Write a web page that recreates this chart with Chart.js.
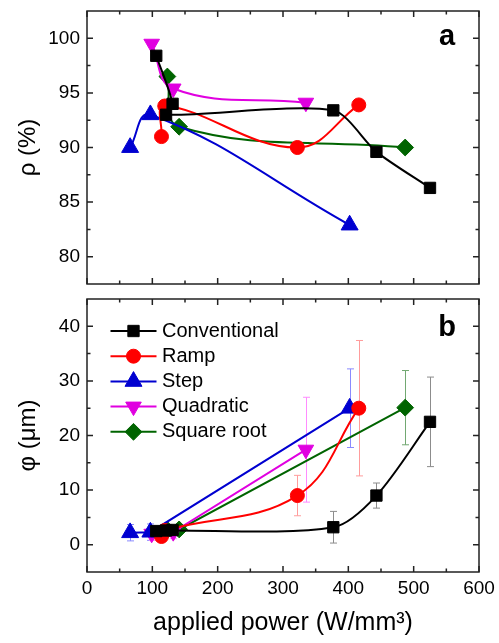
<!DOCTYPE html>
<html>
<head>
<meta charset="utf-8">
<script src="https://cdn.jsdelivr.net/npm/chart.js@4/dist/chart.umd.min.js"></script>
<style>
  body { margin: 0; background: #fff; }
  #wrap { position: relative; width: 499px; height: 643px; }
  canvas { position: absolute; left: 0; }
  #top { top: 0; }
  #bottom { top: 290px; }
</style>
</head>
<body>
<div id="wrap">
  <canvas id="top" width="499" height="290"></canvas>
  <canvas id="bottom" width="499" height="353"></canvas>
</div>
<script>
// applied power (W/mm3) for each heating profile
const conventionalPower = [106, 131, 121, 377, 443, 525];
const rampPower = [114, 119, 322, 416];
const stepPower = [66, 97, 402];
const quadraticPower = [99, 132, 335];
const sqrtPower = [123, 141, 487];

// relative density rho (%)
const conventionalRho = [98.4, 94.0, 93.0, 93.4, 89.6, 86.3];
const rampRho = [91.0, 93.8, 90.0, 93.9];
const stepRho = [90.0, 93.0, 82.9];
const quadraticRho = [99.5, 95.4, 94.1];
const sqrtRho = [96.5, 91.9, 90.0];

// grain size phi (um) with its spread
const conventionalPhi = [2.5, 2.7, 2.6, 3.2, 9.0, 22.5];
const conventionalPhiErr = [0.8, 0.8, 0.8, 2.9, 2.3, 8.2];
const rampPhi = [1.5, 2.6, 9.0, 25.0];
const rampPhiErr = [1.0, 1.0, 3.7, 12.4];
const stepPhi = [2.2, 2.3, 25.0];
const stepPhiErr = [1.5, 1.5, 7.2];
const quadraticPhi = [2.0, 2.3, 17.4];
const quadraticPhiErr = [1.2, 1.2, 9.6];
const sqrtPhi = [2.7, 2.8, 25.1];
const sqrtPhiErr = [0.8, 0.8, 6.8];

const seriesNames = ['Conventional', 'Ramp', 'Step', 'Quadratic', 'Square root'];

const powerTicks = [0, 100, 200, 300, 400, 500, 600];
const rhoTicks = [80, 85, 90, 95, 100];
const phiTicks = [0, 10, 20, 30, 40];

const FONT = "'Liberation Sans', Arial, sans-serif";

const styles = [
  { color: '#000000', err: '#8c8c8c', shape: 'rect', r: 8, rot: 0 },
  { color: '#ff0000', err: '#ff9c9c', shape: 'circle', r: 7, rot: 0 },
  { color: '#0000d0', err: '#8a8aff', shape: 'triangle', r: 9.8, rot: 0 },
  { color: '#e000e0', err: '#ff8cff', shape: 'triangle', r: 9, rot: 180 },
  { color: '#006400', err: '#72a872', shape: 'rectRot', r: 8.4, rot: 0 }
];

const powers = [conventionalPower, rampPower, stepPower, quadraticPower, sqrtPower];
const rhos = [conventionalRho, rampRho, stepRho, quadraticRho, sqrtRho];
const phis = [conventionalPhi, rampPhi, stepPhi, quadraticPhi, sqrtPhi];
const phiErrs = [conventionalPhiErr, rampPhiErr, stepPhiErr, quadraticPhiErr, sqrtPhiErr];

const rhoTension = [0.25, 0.4, 0.4, 0.4, 0.4];
const phiTension = [0.3, 0.4, 0, 0, 0];

function makeDatasets(values, tension, errs) {
  return seriesNames.map((name, i) => {
    const st = styles[i];
    return {
      label: name,
      data: powers[i].map((p, k) => ({ x: p, y: values[i][k] })),
      errors: errs ? errs[i] : null,
      errColor: st.err,
      borderColor: st.color,
      backgroundColor: st.color,
      borderWidth: 2,
      tension: tension[i],
      pointStyle: st.shape,
      pointRadius: st.r,
      pointRotation: st.rot,
      pointBorderWidth: 1,
      pointBorderColor: st.color,
      pointBackgroundColor: st.color,
      clip: false
    };
  });
}

// frame with inward major/minor ticks on all four sides
const framePlugin = {
  id: 'frame',
  afterDatasetsDraw(chart) {
    const { ctx, chartArea: a, scales } = chart;
    const xs = scales.x, ys = scales.y;
    ctx.save();
    ctx.strokeStyle = '#222';
    ctx.lineWidth = 1.5;
    ctx.strokeRect(a.left, a.top, a.right - a.left, a.bottom - a.top);
    const marks = (ticks, min, max) => {
      const out = [];
      const step = ticks[1] - ticks[0];
      ticks.forEach(t => out.push([t, 6]));
      for (let v = ticks[0] - step / 2; v <= max; v += step) {
        if (v > min && v < max) out.push([v, 3.5]);
      }
      return out.filter(m => m[0] >= min && m[0] <= max);
    };
    ctx.beginPath();
    marks(chart.options.xTicks, xs.min, xs.max).forEach(([v, len]) => {
      const px = xs.getPixelForValue(v);
      ctx.moveTo(px, a.bottom); ctx.lineTo(px, a.bottom - len);
      ctx.moveTo(px, a.top); ctx.lineTo(px, a.top + len);
    });
    marks(chart.options.yTicks, ys.min, ys.max).forEach(([v, len]) => {
      const py = ys.getPixelForValue(v);
      ctx.moveTo(a.left, py); ctx.lineTo(a.left + len, py);
      ctx.moveTo(a.right, py); ctx.lineTo(a.right - len, py);
    });
    ctx.stroke();
    // panel letter
    const lab = chart.options.panelLabel;
    ctx.fillStyle = '#000';
    ctx.font = 'bold 29px ' + FONT;
    ctx.textAlign = 'center';
    ctx.textBaseline = 'alphabetic';
    ctx.fillText(lab.text, a.right - 32, a.top + lab.dy);
    ctx.restore();
  }
};

// vertical error bars behind the markers
const errorBarPlugin = {
  id: 'errorBars',
  beforeDatasetsDraw(chart) {
    const { ctx, scales } = chart;
    ctx.save();
    ctx.lineWidth = 1;
    chart.data.datasets.forEach(ds => {
      if (!ds.errors) return;
      ctx.strokeStyle = ds.errColor;
      ctx.beginPath();
      ds.data.forEach((pt, k) => {
        const e = ds.errors[k];
        const px = Math.round(scales.x.getPixelForValue(pt.x)) + 0.5;
        const hi = scales.y.getPixelForValue(pt.y + e);
        const lo = scales.y.getPixelForValue(pt.y - e);
        ctx.moveTo(px, hi); ctx.lineTo(px, lo);
        ctx.moveTo(px - 3.5, hi); ctx.lineTo(px + 3.5, hi);
        ctx.moveTo(px - 3.5, lo); ctx.lineTo(px + 3.5, lo);
      });
      ctx.stroke();
    });
    ctx.restore();
  }
};

function drawMarker(ctx, st, x, y) {
  const r = st.r;
  ctx.beginPath();
  if (st.shape === 'rect') {
    const s = r * Math.SQRT1_2;
    ctx.rect(x - s, y - s, 2 * s, 2 * s);
  } else if (st.shape === 'circle') {
    ctx.arc(x, y, r, 0, Math.PI * 2);
  } else if (st.shape === 'triangle') {
    let rad = st.rot * Math.PI / 180;
    for (let i = 0; i < 3; i++) {
      const px = x + Math.sin(rad) * r, py = y - Math.cos(rad) * r;
      i ? ctx.lineTo(px, py) : ctx.moveTo(px, py);
      rad += Math.PI * 2 / 3;
    }
    ctx.closePath();
  } else {
    ctx.moveTo(x - r, y); ctx.lineTo(x, y - r);
    ctx.lineTo(x + r, y); ctx.lineTo(x, y + r);
    ctx.closePath();
  }
  ctx.fillStyle = st.color;
  ctx.fill();
  ctx.lineWidth = 1;
  ctx.strokeStyle = st.color;
  ctx.stroke();
}

// line + marker legend inside the lower panel
const lineLegendPlugin = {
  id: 'lineLegend',
  afterDraw(chart) {
    const { ctx, chartArea: a } = chart;
    ctx.save();
    chart.data.datasets.forEach((ds, i) => {
      const st = styles[i];
      const y = a.top + 32 + i * 25.2;
      const x0 = a.left + 23.5, x1 = a.left + 69.5;
      ctx.strokeStyle = st.color;
      ctx.lineWidth = 2;
      ctx.beginPath();
      ctx.moveTo(x0, y); ctx.lineTo(x1, y);
      ctx.stroke();
      drawMarker(ctx, st, (x0 + x1) / 2, y);
      ctx.fillStyle = '#000';
      ctx.font = '20px ' + FONT;
      ctx.textAlign = 'left';
      ctx.textBaseline = 'middle';
      ctx.fillText(ds.label, a.left + 75, y);
    });
    ctx.restore();
  }
};

function setTicks(list) {
  return scale => { scale.ticks = list.map(v => ({ value: v })); };
}

// fixed axis box sizes, without the extra room Chart.js keeps for end labels
function fixWidth(w) {
  return s => { s.width = w; s.paddingTop = 0; s.paddingBottom = 0; };
}
function fixHeight(h) {
  return s => { s.height = h; s.paddingLeft = 0; s.paddingRight = 0; };
}

const tickFont = { family: FONT, size: 19 };
const titleFont = { family: FONT, size: 24 };

const topChart = new Chart(document.getElementById('top'), {
  type: 'line',
  data: { datasets: makeDatasets(rhos, rhoTension, null) },
  options: {
    responsive: false,
    animation: false,
    devicePixelRatio: 1,
    events: [],
    xTicks: powerTicks,
    yTicks: rhoTicks,
    panelLabel: { text: 'a', dy: 34 },
    layout: { autoPadding: false, padding: { top: 11, right: 20, bottom: 6, left: 0 } },
    plugins: { legend: { display: false }, tooltip: { enabled: false } },
    scales: {
      x: {
        type: 'linear', min: 0, max: 600, display: false,
        afterBuildTicks: setTicks(powerTicks)
      },
      y: {
        type: 'linear', min: 77.5, max: 102.5,
        afterBuildTicks: setTicks(rhoTicks),
        afterFit: fixWidth(87),
        grid: { display: false, drawTicks: false },
        border: { display: false },
        ticks: { font: tickFont, color: '#000', padding: 7 },
        title: { display: true, text: 'ρ (%)', font: titleFont, color: '#000', padding: { top: 14, bottom: 0 } }
      }
    }
  },
  plugins: [errorBarPlugin, framePlugin]
});

const bottomChart = new Chart(document.getElementById('bottom'), {
  type: 'line',
  data: { datasets: makeDatasets(phis, phiTension, phiErrs) },
  options: {
    responsive: false,
    animation: false,
    devicePixelRatio: 1,
    events: [],
    xTicks: powerTicks,
    yTicks: phiTicks,
    panelLabel: { text: 'b', dy: 37 },
    layout: { autoPadding: false, padding: { top: 9, right: 20, bottom: 0, left: 0 } },
    plugins: { legend: { display: false }, tooltip: { enabled: false } },
    scales: {
      x: {
        type: 'linear', min: 0, max: 600,
        afterBuildTicks: setTicks(powerTicks),
        afterFit: fixHeight(71),
        grid: { display: false, drawTicks: false },
        border: { display: false },
        ticks: { font: tickFont, color: '#000', padding: 5, maxRotation: 0 },
        title: { display: true, text: 'applied power (W/mm³)', font: { family: FONT, size: 25 }, color: '#000', padding: { top: 0, bottom: 5 } }
      },
      y: {
        type: 'linear', min: -5, max: 45,
        afterBuildTicks: setTicks(phiTicks),
        afterFit: fixWidth(87),
        grid: { display: false, drawTicks: false },
        border: { display: false },
        ticks: { font: tickFont, color: '#000', padding: 7 },
        title: { display: true, text: 'φ (μm)', font: titleFont, color: '#000', padding: { top: 14, bottom: 0 } }
      }
    }
  },
  plugins: [errorBarPlugin, framePlugin, lineLegendPlugin]
});
</script>
</body>
</html>
